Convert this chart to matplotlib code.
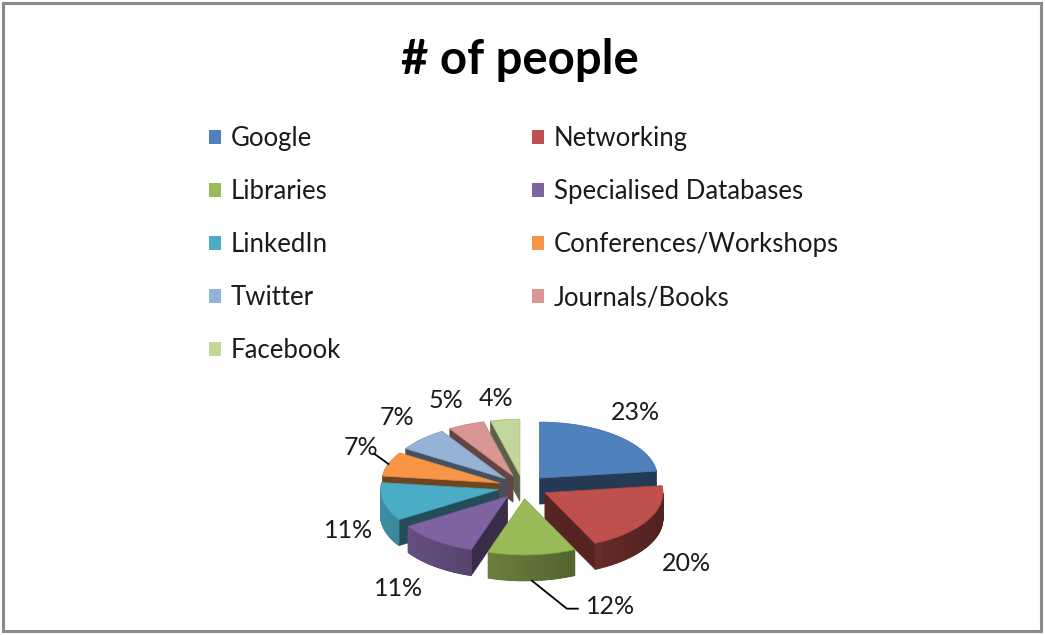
"""Exploded 3D-style pie of where people look for information."""

import numpy as np
import matplotlib

matplotlib.use('Agg')
import matplotlib.pyplot as plt
from matplotlib.colors import to_rgb
from matplotlib.patches import Patch, Polygon, Rectangle

categories = ['Google', 'Networking', 'Libraries', 'Specialised Databases', 'LinkedIn',
              'Conferences/Workshops', 'Twitter', 'Journals/Books', 'Facebook']
shares = [23, 20, 12, 11, 11, 7, 7, 5, 4]
colors = ['#4F81BD', '#C0504D', '#9BBB59', '#8064A2', '#4BACC6',
          '#F79646', '#95B3D7', '#D99694', '#C3D69B']
title = '# of people'

FONT = ['Lato', 'DejaVu Sans']

# pie geometry, pixel units with y pointing down
CX, CY = 523, 487
RX, RY = 118, 56
EXPLODE = 25
DEPTH = 26
LABEL_PAD = 30
# labels that Excel moved away from their default spot (dx, dy)
label_nudge = {'Google': (-2, -1), 'Networking': (12, 3), 'Libraries': (77, -4),
               'Specialised Databases': (-18, -2), 'LinkedIn': (-6, -4),
               'Conferences/Workshops': (1, -6), 'Twitter': (-4, 0),
               'Journals/Books': (-8, 3), 'Facebook': (-5, 9)}
leaders = {'Libraries', 'Conferences/Workshops'}


def shade(color, f):
    r, g, b = to_rgb(color)
    return (r * f, g * f, b * f)


def rim(cx, cy, t):
    t = np.radians(t)
    return cx + RX * np.cos(t), cy - RY * np.sin(t)


def draw_slice(ax, a, b, color):
    mid = np.radians((a + b) / 2)
    cx = CX + EXPLODE * np.cos(mid)
    cy = CY - EXPLODE * (RY / RX) * np.sin(mid)

    # flat cut faces
    for t, vis in ((a, np.cos(np.radians(a)) > 0), (b, np.cos(np.radians(b)) < 0)):
        if not vis:
            continue
        x, y = rim(cx, cy, t)
        face = [(cx, cy), (x, y), (x, y + DEPTH), (cx, cy + DEPTH)]
        ax.add_patch(Polygon(face, closed=True, fc=shade(color, 0.45),
                             ec=shade(color, 0.45), lw=0.5))

    # outer curved wall, front half only
    ts = np.linspace(a, b, 120)
    for t0, t1 in zip(ts[:-1], ts[1:]):
        if np.sin(np.radians((t0 + t1) / 2)) >= 0:
            continue
        x0, y0 = rim(cx, cy, t0)
        x1, y1 = rim(cx, cy, t1)
        f = 0.62 - 0.2 * np.cos(np.radians((t0 + t1) / 2))
        c = shade(color, f)
        ax.add_patch(Polygon([(x0, y0), (x1, y1), (x1, y1 + DEPTH), (x0, y0 + DEPTH)],
                             closed=True, fc=c, ec=c, lw=0.6))

    # top face
    xs, ys = rim(cx, cy, np.linspace(a, b, 80))
    top = [(cx, cy)] + list(zip(xs, ys))
    ax.add_patch(Polygon(top, closed=True, fc=color, ec=shade(color, 0.9), lw=0.6))
    return cx, cy


fig = plt.figure(figsize=(10.45, 6.35), dpi=100)
ax = fig.add_axes([0, 0, 1, 1])
ax.set_xlim(0, 1045)
ax.set_ylim(635, 0)
ax.axis('off')

ax.add_patch(Rectangle((3, 3), 1038, 628, fill=False, ec='#8a8a8a', lw=2.2))

ax.text(520, 60, title, ha='center', va='center', fontsize=34,
        fontweight='bold', family=FONT, color='black')

# legend, filled row-wise in two columns
handles = [Patch(fc=c, ec='none') for c in colors]
leg_kw = dict(loc='upper left', frameon=False, handlelength=0.47,
              handleheight=0.47, handletextpad=0.38, labelspacing=1.09,
              borderaxespad=0, borderpad=0, bbox_transform=ax.transData,
              prop={'family': FONT, 'size': 18.5})
leg1 = ax.legend(handles[0::2], categories[0::2], bbox_to_anchor=(209, 126), **leg_kw)
ax.add_artist(leg1)
ax.legend(handles[1::2], categories[1::2], bbox_to_anchor=(532, 126), **leg_kw)
for leg in ax.get_legend(), leg1:
    for txt in leg.get_texts():
        txt.set_color('#1a1a1a')

# slices start at 12 o'clock and run clockwise
total = sum(shares)
ends = 90 - 360 * np.cumsum([0] + shares) / total
spans = [(ends[i + 1], ends[i]) for i in range(len(shares))]
order = sorted(range(len(shares)), key=lambda i: -np.sin(np.radians(sum(spans[i]) / 2)))
for i in order:
    draw_slice(ax, spans[i][0], spans[i][1], colors[i])

# percentage labels outside each slice
for i, (a, b) in enumerate(spans):
    mid = np.radians((a + b) / 2)
    lx = CX + (RX + EXPLODE + LABEL_PAD) * np.cos(mid)
    ly = CY - (RY + EXPLODE * RY / RX + LABEL_PAD) * np.sin(mid)
    if np.sin(mid) < 0:
        ly += DEPTH
    dx, dy = label_nudge.get(categories[i], (0, 0))
    lx, ly = lx + dx, ly + dy
    pct = f'{round(100 * shares[i] / total)}%'
    ax.text(lx, ly, pct, ha='center', va='center', fontsize=18, family=FONT,
            color='#1a1a1a')
    if categories[i] in leaders:
        ex = CX + (RX + EXPLODE) * np.cos(mid)
        ey = CY - (RY + EXPLODE * RY / RX) * np.sin(mid)
        if np.sin(mid) < 0:
            ey += DEPTH
            ax.plot([ex, lx - 44, lx - 33], [ey, ly + 2, ly + 2], color='black', lw=1.3)
        else:
            ax.plot([lx + 13, lx + 16, ex], [ly + 6, ly + 8, ey], color='black', lw=1.3)

fig.savefig('out.png', dpi=100)
